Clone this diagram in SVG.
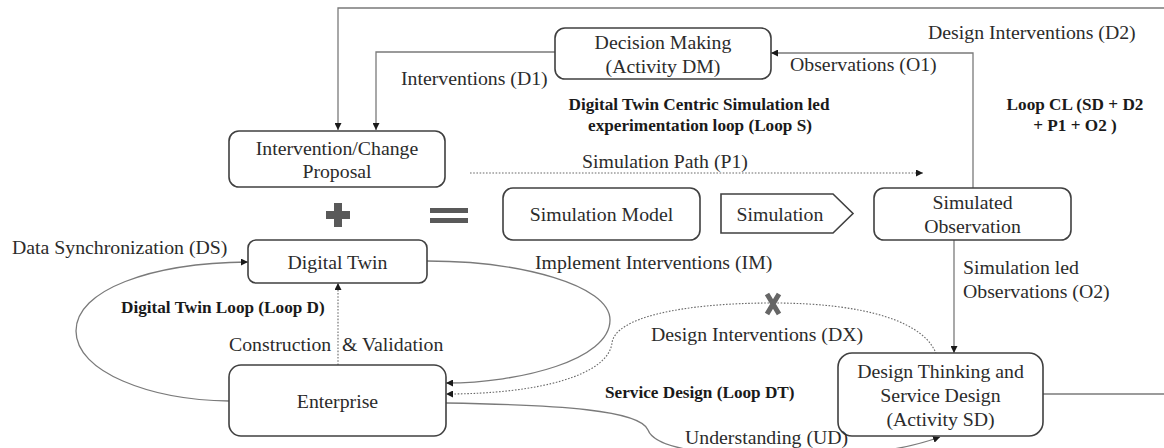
<svg xmlns="http://www.w3.org/2000/svg" width="1164" height="448" viewBox="0 0 1164 448">
<defs>
<marker id="ah" viewBox="0 0 10 10" refX="10" refY="5" markerWidth="7" markerHeight="7" markerUnits="userSpaceOnUse" orient="auto">
<path d="M0,0 L10,5 L0,10 Z" fill="#1a1a1a"/>
</marker>
</defs>
<style>
.box{fill:#fff;stroke:#404040;stroke-width:1.6}
.t{font-family:"Liberation Serif","Times New Roman",serif;font-size:19.8px;fill:#2b2b2b}
.c{text-anchor:middle}
.b{font-family:"Liberation Serif","Times New Roman",serif;font-size:17.2px;font-weight:bold;fill:#1a1a1a}
.ln{fill:none;stroke:#7a7a7a;stroke-width:1.3}
.ar{marker-end:url(#ah)}
.dot{stroke-dasharray:1.6,1.6;stroke-width:1.1;stroke:#6a6a6a}
.sym{fill:#595959}
</style>
<rect width="1164" height="448" fill="#fff"/>

<g id="connectors">
<path class="ln ar" d="M1164,8 H338 V130"/>
<path class="ln" d="M1043,394 H1164"/>
<path class="ln ar" d="M555,52 H376 V130"/>
<path class="ln ar" d="M973,188 V53 H771"/>
<path class="ln ar dot" d="M470,173 H923"/>
<path class="ln ar" d="M954,240 V353"/>
<path class="ln ar dot" d="M338,365 V283"/>
<path class="ln ar" d="M229,401 C150,400 76,372 76,331 C76,290 150,263 248,262"/>
<path class="ln ar" d="M427,261 C520,261 610,285 610,320 C610,360 520,383 446,383"/>
<path class="ln ar dot" d="M938,360 C930,320 860,303 773,303 C680,303 615,318 612,343 C608,375 540,394 446,394"/>
<path class="ln ar" d="M446,403 C560,405 640,410 648,430 C655,448 700,456 800,456 C870,456 910,448 940,437"/>
<path d="M767,294 L779,314 M779,294 L767,314" stroke="#666" stroke-width="5" fill="none"/>
</g>

<g id="decision-making">
<rect class="box" x="555" y="28" width="216" height="51" rx="10"/>
<text class="t c" x="663" y="49">Decision Making</text>
<text class="t c" x="663" y="73">(Activity DM)</text>
</g>

<g id="intervention-proposal">
<rect class="box" x="229" y="131" width="216" height="56" rx="10"/>
<text class="t c" x="337" y="155">Intervention/Change</text>
<text class="t c" x="337" y="178">Proposal</text>
</g>

<g id="plus">
<rect class="sym" x="326" y="211" width="24" height="8"/>
<rect class="sym" x="334" y="203" width="8" height="24"/>
</g>
<g id="equals">
<rect class="sym" x="430" y="208" width="38" height="5"/>
<rect class="sym" x="430" y="218" width="38" height="5"/>
</g>

<g id="simulation-model">
<rect class="box" x="503" y="188" width="197" height="52" rx="10"/>
<text class="t c" x="601.5" y="221">Simulation Model</text>
</g>

<g id="simulation">
<path class="box" d="M721,194 H833 L853,213.5 L833,233 H721 Z"/>
<text class="t c" x="780" y="221">Simulation</text>
</g>

<g id="simulated-observation">
<rect class="box" x="874" y="188" width="197" height="52" rx="10"/>
<text class="t c" x="972.5" y="209">Simulated</text>
<text class="t c" x="972.5" y="233">Observation</text>
</g>

<g id="digital-twin">
<rect class="box" x="248" y="240" width="179" height="43" rx="8"/>
<text class="t c" x="337.5" y="269">Digital Twin</text>
</g>

<g id="enterprise">
<rect class="box" x="229" y="365" width="217" height="71" rx="12"/>
<text class="t c" x="337.5" y="408">Enterprise</text>
</g>

<g id="design-thinking">
<rect class="box" x="838" y="353" width="205" height="83" rx="14"/>
<text class="t c" x="940.5" y="378">Design Thinking and</text>
<text class="t c" x="940.5" y="402">Service Design</text>
<text class="t c" x="940.5" y="426">(Activity SD)</text>
</g>

<g id="labels">
<text class="t" x="401" y="85">Interventions (D1)</text>
<text class="t" x="790" y="71">Observations (O1)</text>
<text class="t" x="928" y="39">Design Interventions (D2)</text>
<text class="t" x="582" y="168">Simulation Path (P1)</text>
<text class="t" x="12" y="254">Data Synchronization (DS)</text>
<text class="t" x="535" y="269">Implement Interventions (IM)</text>
<text class="t" x="963" y="274">Simulation led</text>
<text class="t" x="963" y="298">Observations (O2)</text>
<text class="t" x="229" y="351">Construction</text>
<text class="t" x="342" y="351">&amp; Validation</text>
<text class="t" x="651" y="341">Design Interventions (DX)</text>
<text class="t" x="685" y="444">Understanding (UD)</text>
<text class="b c" x="699" y="110">Digital Twin Centric Simulation led</text>
<text class="b c" x="700" y="131">experimentation loop (Loop S)</text>
<text class="b c" x="1075" y="110">Loop CL (SD + D2</text>
<text class="b c" x="1075" y="131">+ P1 + O2 )</text>
<text class="b" x="121" y="313">Digital Twin Loop (Loop D)</text>
<text class="b" x="605" y="398">Service Design (Loop DT)</text>
</g>
</svg>
